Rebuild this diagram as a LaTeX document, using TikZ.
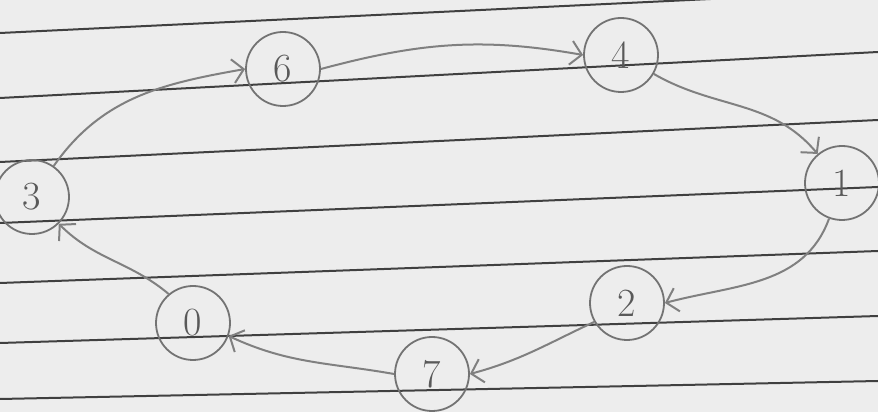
\documentclass[tikz,border=0pt]{standalone}
\usetikzlibrary{arrows.meta}
\begin{document}
\begin{tikzpicture}[
    x=1pt, y=1pt,
    paper/.style={draw=black!75, line width=2pt},
    vertex/.style={circle, draw=black!55, line width=1.8pt, minimum size=74pt, inner sep=0pt, text=black!65, font=\fontsize{40}{44}\selectfont},
    edge/.style={draw=black!50, line width=2pt, -{Straight Barb[length=11pt,width=24pt]}}
]
    \useasboundingbox (0,0) rectangle (878,412);
    \clip (0,0) rectangle (878,412);
    \fill[black!7] (0,0) rectangle (878,412);
    % ruled lines of the page
    \foreach \l/\r in {379/421, 314/360, 250/292, 189/225, 129/161, 69/96, 13/31}
        \draw[paper] (0,\l) -- (878,\r);

    \node[vertex] (n6) at (283,343) {6};
    \node[vertex] (n4) at (621,357) {4};
    \node[vertex] (n1) at (842,229) {1};
    \node[vertex] (n2) at (627,109) {2};
    \node[vertex] (n7) at (432,38) {7};
    \node[vertex] (n0) at (193,89) {0};
    \node[vertex] (n3) at (32,215) {3};

    \draw[edge] (n3.55) to[out=55, in=190] (n6.west);
    \draw[edge] (n6.east) to[out=15, in=170] (n4.west);
    \draw[edge] (n4.-30) to[out=-30, in=130] (n1.130);
    \draw[edge] (n1.-110) to[out=-110, in=15] (n2.east);
    \draw[edge] (n2.-150) to[out=205, in=15] (n7.east);
    \draw[edge] (n7.west) to[out=170, in=-25] (n0.-20);
    \draw[edge] (n0.130) to[out=140, in=-45] (n3.-45);
\end{tikzpicture}
\end{document}
